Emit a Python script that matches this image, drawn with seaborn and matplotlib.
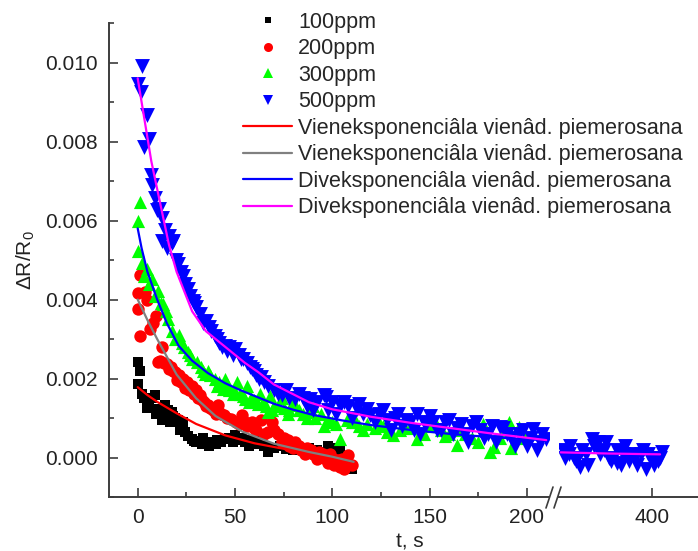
import matplotlib
matplotlib.use("Agg")
import matplotlib.pyplot as plt
from matplotlib.lines import Line2D
from matplotlib.ticker import MultipleLocator, FormatStrFormatter
import seaborn as sns

t_100 = [0, 0.3, 1.2, 2, 3, 4.6, 6, 7.5, 8.9, 10.5, 12.3, 14, 15.5, 17.4, 19, 20.8,
         22.5, 24.3, 26, 27.7, 30, 32.8, 35, 38, 41, 44.8, 47, 50, 52, 55, 58, 62,
         65, 67, 70, 73, 76, 80, 84, 88, 92, 95, 98, 101, 104, 107, 109, 110,
         5, 9.5, 13, 16.5, 18, 21.5, 23.5, 29, 33.5, 36.5, 40, 43, 49, 53.5, 57, 60]
v_100 = [0.00186, 0.00241, 0.0022, 0.00161, 0.0015, 0.0014, 0.0013, 0.0015, 0.00157,
         0.00123, 0.00094, 0.00132, 0.0012, 0.00115, 0.001, 0.00094, 0.0008, 0.00065,
         0.00055, 0.00048, 0.0004, 0.00035, 0.00038, 0.0004, 0.00045, 0.00048, 0.0005,
         0.00056, 0.00045, 0.0004, 0.00045, 0.00048, 0.0003, 0.00014, 0.00025, 0.0003,
         0.00022, 0.0002, 0.00018, 0.00025, 0.0002, 0.00015, 0.0003, 0.00025, 0.0002,
         -0.0001, -0.0002, -0.00028,
         0.00125, 0.0011, 0.0011, 0.0009, 0.00105, 0.0007, 0.0009, 0.00042, 0.0005,
         0.0003, 0.00035, 0.0004, 0.0004, 0.0005, 0.0003, 0.00035]

t_200 = [0, 0.3, 1.2, 1.2, 3.7, 5, 6.3, 8, 9.6, 10.5, 12.3, 14.9, 17, 19.1, 21, 23.4,
         25.5, 27.7, 30, 32, 34, 36, 38.5, 41.2, 43, 44.6, 48, 50.5, 53.5, 56, 58.5, 61,
         63.6, 65, 67, 69, 72, 75, 78, 81, 84, 87, 90, 93, 96, 99, 102, 104, 105, 108, 110,
         11.5, 13.5, 16, 18, 20, 22, 24.5, 26.5, 29, 31, 33, 35, 37, 40, 42, 46, 52, 55,
         60, 70, 74, 77, 80, 83, 86, 89, 92, 95, 98, 101, 106]
v_200 = [0.00417, 0.00375, 0.00463, 0.00308, 0.00418, 0.004, 0.00325, 0.0034, 0.00358,
         0.00241, 0.0028, 0.00237, 0.0023, 0.00216, 0.0021, 0.00199, 0.0019, 0.00182,
         0.0017, 0.00157, 0.0014, 0.00132, 0.0012, 0.00132, 0.0011, 0.00107, 0.00098,
         0.0009, 0.00107, 0.0008, 0.0009, 0.0007, 0.00094, 0.0006, 0.00065, 0.00091,
         0.0006, 0.0005, 0.0003, 0.0004, 0.0002, 0.00025, 0.0001, 0.00015, 0.0, 0.0001,
         -0.0001, -0.00025, -0.00005, 0.00006, -0.0002,
         0.00245, 0.0024, 0.00225, 0.0022, 0.00195, 0.0019, 0.00175, 0.0017, 0.0016,
         0.0015, 0.00145, 0.0013, 0.00125, 0.0011, 0.00115, 0.001, 0.00085, 0.0009,
         0.00075, 0.0007, 0.0004, 0.00045, 0.00025, 0.0003, 0.0001, 0.0002, -0.00005,
         0.0001, -0.00015, -0.0002, -0.0003]

t_300 = [0, 0.3, 1.2, 2, 4.6, 7.1, 10.5, 13.1, 15.7, 17.5, 19.1, 22.6, 24, 26, 28, 30.4,
         32.5, 34.5, 37, 39.7, 42, 44, 47, 50, 52.5, 55, 58, 62, 64.5, 67, 70, 72, 75, 78,
         81, 85, 88, 91, 94, 96, 100, 104, 107.5, 110, 114, 118, 122, 126, 131, 135, 140,
         143.5, 147, 152, 156, 160, 164, 168, 172, 177.7, 181, 183, 186, 191, 192, 196, 199,
         3, 6, 9, 12, 14.5, 21, 27, 33.5, 36, 41, 46, 49, 54, 57, 60, 66, 69, 77, 83, 87,
         98, 102, 112, 116, 124, 128, 137, 150, 158, 166, 175, 188,
         45, 51, 56, 63, 68, 74, 80, 90]
v_300 = [0.00598, 0.00522, 0.00648, 0.00493, 0.00476, 0.00451, 0.00421, 0.00388, 0.0035,
         0.0032, 0.003, 0.00291, 0.0028, 0.00266, 0.0025, 0.00241, 0.0023, 0.00212, 0.0021,
         0.00199, 0.0019, 0.00174, 0.0017, 0.00165, 0.0016, 0.00149, 0.0015, 0.00136,
         0.0014, 0.00115, 0.0013, 0.0013, 0.00125, 0.0012, 0.00132, 0.0011, 0.00115, 0.001,
         0.00111, 0.00081, 0.0009, 0.00048, 0.00094, 0.0009, 0.0008, 0.00085, 0.00075,
         0.0008, 0.00056, 0.0007, 0.00075, 0.00048, 0.0006, 0.001, 0.0007, 0.0006, 0.00031,
         0.0006, 0.0005, 0.00086, 0.00014, 0.00027, 0.0005, 0.0009, 0.00023, 0.00077, 0.0005,
         0.0046, 0.0044, 0.0041, 0.0039, 0.0037, 0.0031, 0.0026, 0.0022, 0.0022, 0.0018,
         0.00185, 0.0016, 0.00155, 0.0014, 0.00145, 0.0013, 0.0012, 0.0011, 0.0012, 0.001,
         0.00095, 0.00085, 0.0009, 0.0007, 0.0009, 0.00065, 0.0008, 0.0008, 0.00055,
         0.0007, 0.0004, 0.00065,
         0.002, 0.0019, 0.0018, 0.0016, 0.00155, 0.0015, 0.0014, 0.0013]

t_500 = [0, 1.7, 2.4, 3.4, 4.6, 5.8, 6.8, 8.9, 9.8, 12.3, 12.6, 14, 16, 17.8, 18.3, 20.8,
         22, 23.4, 26, 27, 28.5, 30, 32, 35.3, 37.5, 39.7, 42, 44.8, 47, 50, 52, 54.2, 56,
         58.5, 61, 63.6, 65, 67,
         70, 72, 74.3, 76, 78, 81, 83, 85, 87, 88.8, 90, 92, 95.6, 97, 98, 100, 102, 104,
         106, 108, 110, 112.7, 114, 116, 118, 119.6, 122, 124, 126, 128, 130, 132, 134, 136,
         138, 140, 142, 143.5, 145, 147, 148, 150, 152, 154, 156, 158, 160, 162, 164, 166,
         168, 170, 172, 174, 176, 178, 180, 182, 184, 186, 188, 190, 192, 194, 196, 198,
         200, 202, 203, 205, 207, 208, 210,
         7.5, 11, 15, 19.5, 24.5, 29, 33.5, 36.5, 41, 43.5, 46, 49, 53, 57.5, 60, 62.5]
v_500 = [0.00946, 0.00925, 0.0099, 0.00787, 0.00867, 0.00806, 0.00715, 0.00657, 0.00627,
         0.00607, 0.00547, 0.00577, 0.0056, 0.00543, 0.00547, 0.00489, 0.0047, 0.00459,
         0.00426, 0.0041, 0.00396, 0.0038, 0.00363, 0.00346, 0.0032, 0.00308, 0.0029,
         0.00283, 0.0028, 0.00275, 0.0026, 0.00249, 0.0024, 0.00224, 0.0021, 0.00203,
         0.0019, 0.00182,
         0.0017, 0.0016, 0.00157, 0.0017, 0.0015, 0.00149, 0.0016, 0.0015, 0.0013, 0.00149,
         0.0012, 0.0014, 0.00157, 0.00153, 0.0012, 0.0014, 0.0011, 0.00132, 0.0014, 0.0013,
         0.001, 0.00123, 0.00135, 0.0011, 0.00123, 0.00107, 0.0009, 0.0011, 0.0012, 0.00095,
         0.0007, 0.001, 0.0011, 0.0008, 0.00095, 0.0009, 0.0007, 0.00111, 0.0006, 0.0009,
         0.00085, 0.00105, 0.0009, 0.0007, 0.0007, 0.0009, 0.00095, 0.0006, 0.00075,
         0.00085, 0.0006, 0.0004, 0.0008, 0.0009, 0.0007, 0.0005, 0.0006, 0.0008, 0.0004,
         0.00077, 0.00075, 0.0006, 0.0005, 0.0003, 0.0006, 0.0007, 0.0003, 0.0005, 0.00073,
         0.0002, 0.0004, 0.0006, 0.00048,
         0.0069, 0.0063, 0.0053, 0.0050, 0.0044, 0.0039, 0.0034, 0.0033, 0.0030, 0.0028,
         0.0027, 0.0026, 0.0025, 0.0023, 0.0022, 0.0020]

# 500 ppm points after the axis break
t_500_late = [354, 357, 360, 363, 366, 369, 372, 375, 378, 381.7, 385, 388, 391, 394,
              397, 400, 403, 405, 355, 358, 361, 364, 367, 370, 373, 376, 379, 382, 384,
              386, 389, 392, 395, 398, 401, 404]
v_500_late = [0.0002, 0.0001, 0.0, -0.00023, 0.0001, 0.00048, 0.0004, 0.0002, 0.0,
              -0.00015, 0.0001, -0.0001, 0.0, 0.0001, -0.00028, 0.0, -0.0001, 0.00015,
              0.0, 0.0003, -0.0001, 0.0002, -0.0002, 0.0003, 0.0001, 0.0004, -0.0001,
              0.0002, -0.0002, 0.0003, 0.0001, -0.0002, 0.0002, 0.0001, -0.0002, 0.0]

# ---- fitted curves ----
fit1_t = [0, 5, 10, 20, 30, 45, 60, 75, 90, 110]
fit1_v = [0.00178, 0.00158, 0.00141, 0.00112, 0.00085, 0.00056, 0.00036, 0.00022,
          0.00012, 0.00002]
fit2_t = [0, 5, 10, 15, 20, 30, 40, 54, 70, 88, 100, 111]
fit2_v = [0.0040, 0.00348, 0.0030, 0.00255, 0.0021, 0.0015, 0.00105, 0.00065, 0.00035,
          0.00014, 0.00002, -0.00011]
fit3_t = [0, 2, 5, 10, 15, 21, 28, 36, 45, 53, 62, 70, 80, 90, 105, 120, 140, 160, 180, 205]
fit3_v = [0.0058, 0.0053, 0.0047, 0.0040, 0.0034, 0.00283, 0.00245, 0.00214, 0.00188,
          0.0017, 0.00152, 0.00136, 0.00121, 0.00108, 0.00094, 0.00082, 0.0007, 0.0006,
          0.00052, 0.00045]
fit4_t = [0, 3, 7, 10, 16, 20, 28, 35, 45, 55, 62, 70, 80, 88, 100, 120, 140, 160, 180,
          195, 210]
fit4_v = [0.0096, 0.0087, 0.0075, 0.0068, 0.0054, 0.0047, 0.0037, 0.0032, 0.0028, 0.0024,
          0.00216, 0.00185, 0.0016, 0.0014, 0.00122, 0.00103, 0.00088, 0.00075, 0.00062,
          0.00053, 0.00044]
fit4_late_t = [353, 378, 404]
fit4_late_v = [0.00013, 0.0001, 0.00008]

series_labels = ["100ppm", "200ppm", "300ppm", "500ppm"]
fit_labels = ["Vieneksponenciâla vienâd. piemerosana",
              "Vieneksponenciâla vienâd. piemerosana",
              "Diveksponenciâla vienâd. piemerosana",
              "Diveksponenciâla vienâd. piemerosana"]

sns.set_style("white")
plt.rcParams["font.family"] = ["Liberation Sans", "DejaVu Sans"]
plt.rcParams["mathtext.default"] = "regular"

W, H = 698, 551
fig = plt.figure(figsize=(W / 100, H / 100), dpi=100)
bot, top = 497, 23
ax1 = fig.add_axes([109 / W, (H - bot) / H, (549 - 109) / W, (bot - top) / H])
ax2 = fig.add_axes([559 / W, (H - bot) / H, (W - 559) / W, (bot - top) / H], sharey=ax1)

spine_c = "#3c3c3c"
# (x, y, marker, colour, scatter size, legend marker size)
pts = [(t_100, v_100, "s", "#000000", 50, 5.0),
       (t_200, v_200, "o", "#ff0000", 80, 6.5),
       (t_300, v_300, "^", "#00ff00", 90, 7.2),
       (t_500, v_500, "v", "#0000ff", 115, 7.2)]
for t, v, m, c, s, _ in pts:
    sns.scatterplot(x=t, y=v, marker=m, color=c, s=s, linewidth=0, ax=ax1, zorder=2)
sns.scatterplot(x=t_500_late, y=v_500_late, marker="v", color="#0000ff", s=115,
                linewidth=0, ax=ax2, zorder=2)

fits = [(fit1_t, fit1_v, "#ff0000"), (fit2_t, fit2_v, "#808080"),
        (fit3_t, fit3_v, "#0000ff"), (fit4_t, fit4_v, "#ff00ff")]
for t, v, c in fits:
    sns.lineplot(x=t, y=v, color=c, lw=1.6, estimator=None, sort=False, ax=ax1, zorder=3)
sns.lineplot(x=fit4_late_t, y=fit4_late_v, color="#ff00ff", lw=1.6, estimator=None,
             sort=False, ax=ax2, zorder=3)

ax1.set_xlim(-14.75, 211.4)
ax2.set_xlim(352.1, 423.5)
ax1.set_ylim(-0.001, 0.011)

ax1.xaxis.set_major_locator(MultipleLocator(50))
ax1.xaxis.set_minor_locator(MultipleLocator(25))
ax1.yaxis.set_major_locator(MultipleLocator(0.002))
ax1.yaxis.set_minor_locator(MultipleLocator(0.001))
ax1.yaxis.set_major_formatter(FormatStrFormatter("%.3f"))
ax2.set_xticks([400])

for ax in (ax1, ax2):
    for side in ("top", "right"):
        ax.spines[side].set_visible(False)
    for side in ("left", "bottom"):
        ax.spines[side].set_linewidth(1.4)
        ax.spines[side].set_color(spine_c)
    ax.tick_params(which="major", direction="in", length=6.5, width=1.2, color=spine_c,
                   labelsize=15, labelcolor="#222222", pad=8)
    ax.tick_params(which="minor", direction="in", length=3.4, width=1.2, color=spine_c)
    ax.set_xlabel("")
    ax.set_ylabel("")
ax1.tick_params(which="both", bottom=True, left=True)
ax2.spines["left"].set_visible(False)
ax2.tick_params(which="both", left=False, labelleft=False, bottom=True)

ax1.set_ylabel(r"ΔR/R$_0$", fontsize=15, color="#222222", labelpad=6)
fig.text(410 / W, 1 - 547 / H, "t, s", fontsize=15, color="#222222",
         ha="center", va="baseline")

# axis break marks
for x0 in (546, 554):
    fig.add_artist(Line2D([x0 / W, (x0 + 7) / W], [1 - 508 / H, 1 - 487 / H],
                          color=spine_c, lw=1.2))

handles = [Line2D([], [], ls="none", marker=m, color=c, markersize=ms,
                  markeredgewidth=0) for _, _, m, c, _, ms in pts]
handles += [Line2D([], [], color=c, lw=1.6) for _, _, c in fits]
fig.legend(handles, series_labels + fit_labels, loc="upper left",
           bbox_to_anchor=(243 / W, 1 - 12 / H), frameon=False, fontsize=15.5,
           handlelength=2.28, handletextpad=0.28, labelspacing=0.255, borderpad=0,
           borderaxespad=0)

fig.savefig("out.png", dpi=100)
